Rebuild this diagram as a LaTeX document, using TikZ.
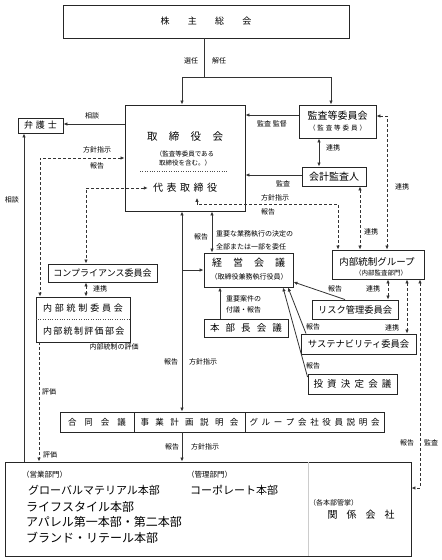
\documentclass[tikz,border=0pt]{standalone}
\usepackage{fontspec}
\setmainfont{Noto Sans CJK JP}
\usetikzlibrary{arrows.meta}
\newcommand{\fsize}[1]{\fontsize{#1}{#1}\selectfont}
\newcommand{\spread}[2]{\makebox[#1][s]{#2}}
\tikzset{
  >={Latex[length=4pt,width=3.5pt]},
  box/.style={draw=black!85, line width=0.9pt, inner sep=0pt, align=center},
  lbl/.style={inner sep=0pt, font=\fsize{7}},
  link/.style={draw=black!80, line width=0.8pt, ->},
  both/.style={draw=black!80, line width=0.8pt, <->},
  dlink/.style={dash pattern=on 3pt off 2pt}
}
\begin{document}
\begin{tikzpicture}[x=1pt, y=-1pt]
  \useasboundingbox (0,0) rectangle (442,560);

  % boxes
  \node[box, minimum width=286pt, minimum height=33pt, font=\fsize{9}] (kabunushi) at (206,21.5) {\spread{91pt}{株 主 総 会}};

  \node[box, minimum width=120pt, minimum height=106pt] (torishimari) at (185,158) {};
  \node[font=\fsize{10.5}] at (185,137) {\spread{76pt}{取 締 役 会}};
  \node[inner sep=0pt, align=center, font=\fontsize{6.5}{9}\selectfont] at (185,158.5) {（監査等委員である\\取締役を含む。）};
  \draw[dotted, black!70] (140,171) -- (228,171);
  \node[font=\fsize{10}, inner sep=5pt] (daihyo) at (185,188) {\spread{64pt}{代 表 取 締 役}};

  \node[box, minimum width=77pt, minimum height=33pt] (kansa) at (337.5,121.5) {};
  \node[font=\fsize{10}] at (337.5,116) {監査等委員会};
  \node[font=\fsize{6.5}] at (337.5,128) {\spread{57pt}{（ 監 査 等 委 員 ）}};

  \node[box, minimum width=64pt, minimum height=19pt, font=\fsize{10}] (kaikei) at (334,176.5) {会計監査人};
  \node[box, minimum width=45pt, minimum height=15pt, font=\fsize{9}] (bengoshi) at (40.5,125.5) {\spread{33pt}{弁 護 士}};

  \node[box, minimum width=92pt, minimum height=29pt] (naibu) at (378,264.5) {};
  \node[font=\fsize{9.5}] at (377,262) {内部統制グループ};
  \node[font=\fsize{6.5}] at (381,273) {（内部監査部門）};

  \node[box, minimum width=89pt, minimum height=34pt] (keiei) at (248.5,270) {};
  \node[font=\fsize{10}] at (248.5,263) {\spread{73pt}{経 営 会 議}};
  \node[font=\fsize{7}] at (249,277) {（取締役兼務執行役員）};

  \node[box, minimum width=84pt, minimum height=18pt, font=\fsize{9.5}] (honbucho) at (246,328) {\spread{72pt}{本 部 長 会 議}};
  \node[box, minimum width=86pt, minimum height=19pt, font=\fsize{9.25}] (risk) at (355,309.5) {リスク管理委員会};
  \node[box, minimum width=115pt, minimum height=20pt, font=\fsize{9.25}] (sustain) at (358.5,344) {サステナビリティ委員会};
  \node[box, minimum width=89pt, minimum height=20pt, font=\fsize{9.5}] (toushi) at (352.5,384) {\spread{78pt}{投 資 決 定 会 議}};

  \node[box, minimum width=109pt, minimum height=18pt, font=\fsize{9}] (compliance) at (102.5,273) {コンプライアンス委員会};
  \node[box, minimum width=94pt, minimum height=45pt] (naibuiinkai) at (83,319.5) {};
  \node[font=\fsize{9}] at (83,308) {\spread{80pt}{内 部 統 制 委 員 会}};
  \draw[dotted, black!70] (naibuiinkai.west) -- (naibuiinkai.east);
  \node[font=\fsize{9}] at (83,331) {\spread{80pt}{内 部 統 制 評 価 部 会}};

  \node[box, minimum width=74pt, minimum height=20pt, font=\fsize{8.5}] (godo) at (97,422) {\spread{58pt}{合 同 会 議}};
  \node[box, minimum width=111pt, minimum height=20pt, font=\fsize{8.5}] (jigyo) at (189.5,422) {\spread{98pt}{事 業 計 画 説 明 会}};
  \node[box, minimum width=139pt, minimum height=20pt, font=\fsize{8.5}] (kaisha) at (314.5,422) {\spread{130pt}{グ ル ー プ 会 社 役 員 説 明 会}};

  % divisions
  \node[box, minimum width=406pt, minimum height=94pt] (bumon) at (208,509) {};
  \draw[black!20, line width=0.6pt] (bumon.north -| 308,0) -- (bumon.south -| 308,0);
  \node[anchor=west, inner sep=0pt, font=\fsize{7.5}] at (22,475) {（営業部門）};
  \node[anchor=west, inner sep=0pt, font=\fsize{11}] at (28,490) {グローバルマテリアル本部};
  \node[anchor=west, inner sep=0pt, font=\fsize{12}] at (26,507) {ライフスタイル本部};
  \node[anchor=west, inner sep=0pt, font=\fsize{12}] at (26,522) {アパレル第一本部・第二本部};
  \node[anchor=west, inner sep=0pt, font=\fsize{12}] at (26,538) {ブランド・リテール本部};
  \node[anchor=west, inner sep=0pt, font=\fsize{7.5}] at (187,475) {（管理部門）};
  \node[anchor=west, inner sep=0pt, font=\fsize{11}] at (190,490) {コーポレート本部};
  \node[anchor=west, inner sep=0pt, font=\fsize{7}] at (309,503) {（各本部管掌）};
  \node[font=\fsize{10}] at (361,515) {\spread{67pt}{関 係 会 社}};

  % connectors
  \coordinate (bunki) at (204,77);
  \draw[draw=black!80, line width=0.8pt] (kabunushi.south -| bunki) -- (bunki);
  \draw[link] (bunki) -| (torishimari.north -| 182,0);
  \draw[link] (bunki) -| (kansa.north -| 331,0);
  \node[lbl] at (191,61) {選任};
  \node[lbl] at (219,61) {解任};

  \draw[link] (torishimari.west |- 0,124) -- (bengoshi.east |- 0,124);
  \node[lbl] at (92,116) {相談};
  \draw[link] (kansa.west |- 0,115) -- (torishimari.east |- 0,115);
  \node[lbl] at (272,124) {監査 監督};
  \draw[both] (kansa.south -| 319,0) -- (kaikei.north -| 319,0);
  \node[lbl] at (333,148) {連携};
  \draw[link] (kaikei.west |- 0,175) -- (torishimari.east |- 0,175);
  \node[lbl] at (283,184) {監査};

  \draw[both, dlink] (kansa.east |- 0,116) -| (naibu.north -| 387,0);
  \node[lbl] at (402,187) {連携};
  \draw[both, dlink] (kaikei.south -| 360,0) -- (naibu.north -| 360,0);
  \node[lbl] at (371,232) {連携};
  \draw[both, dlink] (daihyo.south -| 197,0) |- (338,204) -- (naibu.north -| 338,0);
  \node[lbl] at (275,198) {方針指示};
  \node[lbl] at (268,212) {報告};

  \draw[both, dlink] (torishimari.west |- 0,158) -| (naibuiinkai.north -| 40,0);
  \node[lbl] at (97,150) {方針指示};
  \node[lbl] at (97,166) {報告};
  \draw[both, dlink] (daihyo.west) -| (compliance.north -| 86,0);
  \draw[both, dlink] (compliance.south -| 86,0) -- (naibuiinkai.north -| 86,0);
  \node[lbl] at (100,289) {連携};
  \node[lbl] at (114,347) {内部統制の評価};
  \draw[link, dlink] (naibuiinkai.south -| 39,0) -- (bumon.north -| 39,0);
  \node[lbl] at (49,392) {評価};
  \node[lbl] at (50,455) {評価};
  \draw[link] (bumon.north -| 24,0) -- (bengoshi.south -| 24,0);
  \node[lbl] at (12,200) {相談};

  \draw[both] (torishimari.south -| 182,0) -- (jigyo.north -| 182,0);
  \node[lbl] at (171,362) {報告};
  \node[lbl] at (203,362) {方針指示};
  \draw[link] (keiei.west -| 182,0) -- (keiei.west);
  \draw[both] (torishimari.south -| 212,0) -- (keiei.north -| 212,0);
  \node[lbl] at (201,237) {報告};
  \node[lbl, anchor=west, align=left, font=\fontsize{7}{13}\selectfont] at (216,240.5) {重要な業務執行の決定の\\全部または一部を委任};
  \draw[link] (honbucho.north -| 220,0) -- (keiei.south -| 220,0);
  \node[lbl, anchor=west, align=left, font=\fontsize{7}{11}\selectfont] at (226,304) {重要案件の\\付議・報告};

  \draw[link] (risk.north -| 345,0) -- (keiei.east |- 0,282);
  \node[lbl] at (335,289) {報告};
  \draw[link] (sustain.north -| 306,0) -- (keiei.south -| 288,0);
  \node[lbl] at (313,327) {報告};
  \draw[link] (toushi.west |- 0,377) -- (keiei.south -| 283,0);
  \node[lbl] at (313,366) {報告};

  \draw[both, dlink] (naibu.south -| 388,0) -- (risk.north -| 388,0);
  \node[lbl] at (373,289) {連携};
  \draw[both, dlink] (naibu.south -| 407,0) -- (sustain.north -| 407,0);
  \node[lbl] at (392,328) {連携};
  \draw[both, dlink] (naibu.south -| 420,0) |- (bumon.east |- 0,488);
  \node[lbl] at (407,443) {報告};
  \node[lbl] at (431,443) {監査};

  \draw[link] (jigyo.south -| 182,0) -- (bumon.north -| 182,0);
  \node[lbl] at (172,447) {報告};
  \node[lbl] at (205,447) {方針指示};
\end{tikzpicture}
\end{document}
